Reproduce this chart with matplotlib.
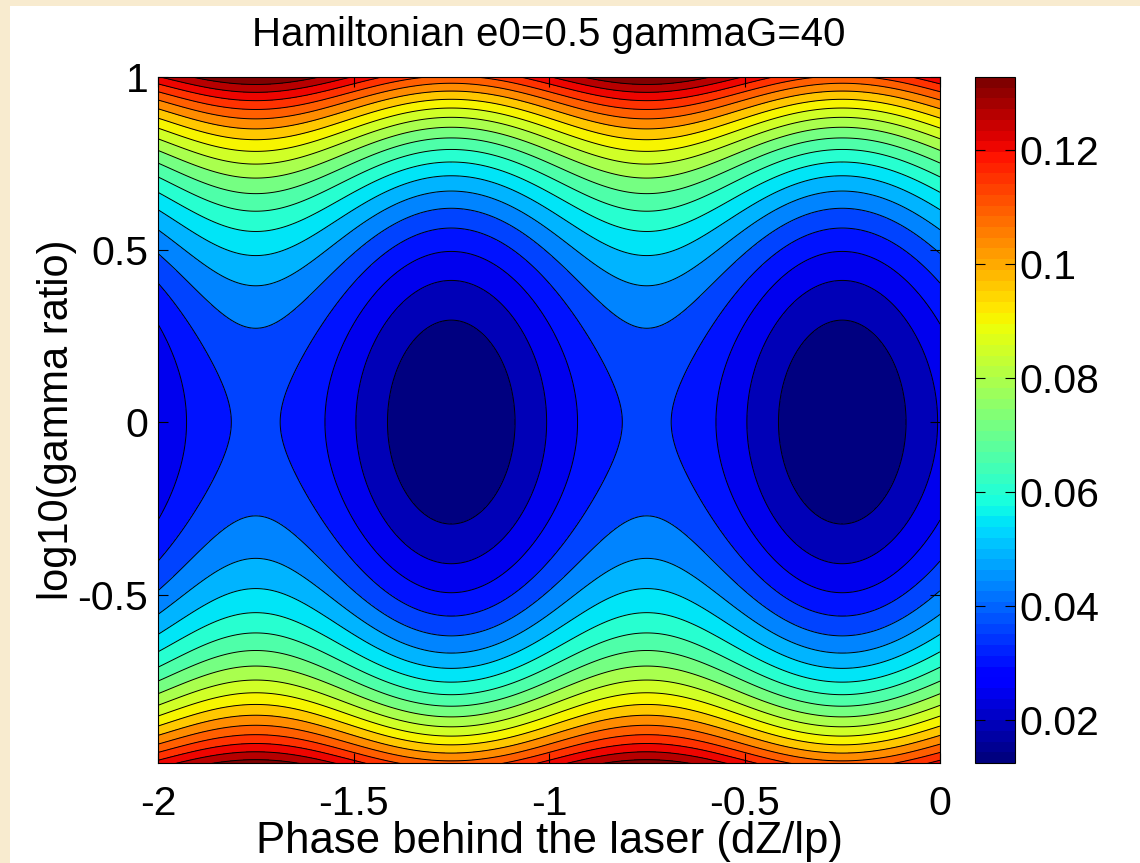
import numpy as np
import matplotlib
matplotlib.use("Agg")
import matplotlib.pyplot as plt
from matplotlib.colors import Normalize
from matplotlib.patches import Rectangle
from matplotlib.cm import ScalarMappable
from matplotlib.ticker import FuncFormatter

# ---- chart values ----
title_text = "Hamiltonian e0=0.5 gammaG=40"
x_label = "Phase behind the laser (dZ/lp)"
y_label = "log10(gamma ratio)"
gamma_G = 40.0
e0 = 0.5
phase_range = [-2.0, 0.0]          # dZ/lp
log_ratio_range = [-1.0, 1.0]      # log10(gamma/gammaG)
y_view = [-0.988, 1.0]
phase_of_minimum = -0.25
n_levels = 20
x_ticks = [-2, -1.5, -1, -0.5, 0]
y_ticks = [-0.5, 0, 0.5, 1]
cbar_ticks = [0.02, 0.04, 0.06, 0.08, 0.10, 0.12]

plt.rcParams["font.family"] = ["Liberation Sans", "DejaVu Sans"]

W, H = 1140, 863
fig = plt.figure(figsize=(W / 100, H / 100), dpi=100)
fig.patch.set_facecolor("white")
beige = "#f8ebcf"
fig.patches.append(Rectangle((0, 0), 10 / W, 1, transform=fig.transFigure,
                             facecolor=beige, edgecolor="none", zorder=-5))
fig.patches.append(Rectangle((0, 1 - 6 / H), 1, 6 / H, transform=fig.transFigure,
                             facecolor=beige, edgecolor="none", zorder=-5))

ax_l, ax_r, ax_t, ax_b = 158, 940, 77, 763
ax = fig.add_axes([ax_l / W, 1 - ax_b / H, (ax_r - ax_l) / W, (ax_b - ax_t) / H])

psi = np.linspace(phase_range[0], phase_range[1], 401)
lr = np.linspace(log_ratio_range[0], log_ratio_range[1], 401)
P, Y = np.meshgrid(psi, lr)
ratio = 10.0 ** Y
# kinetic part (gamma/gammaG + gammaG/gamma)/(2 gammaG) minus wake potential
Hm = (ratio + 1.0 / ratio) / (2.0 * gamma_G) \
    - (e0 / gamma_G) * np.cos(2 * np.pi * (P - phase_of_minimum))

zmin, zmax = Hm.min(), Hm.max()
levels = np.linspace(zmin, zmax, n_levels + 2)
cmap = plt.get_cmap("jet", 64)
norm = Normalize(vmin=levels[0], vmax=levels[-2])
band_colors = [cmap(norm(v)) for v in levels[:-1]]

ax.contourf(P, Y, Hm, levels=levels, colors=band_colors)
ax.contour(P, Y, Hm, levels=levels[1:-1], colors="k", linewidths=0.7)

ax.set_xlim(phase_range)
ax.set_ylim(y_view)
ax.set_xticks(x_ticks)
ax.set_yticks(y_ticks)
fmt = FuncFormatter(lambda v, p: ("%g" % v))
ax.xaxis.set_major_formatter(fmt)
ax.yaxis.set_major_formatter(fmt)
ax.tick_params(direction="in", length=7, width=0.8, top=True, right=True,
               labelsize=29.5, colors="k")
ax.tick_params(axis="x", pad=16)
ax.tick_params(axis="y", pad=7)
for s in ax.spines.values():
    s.set_linewidth(0.8)

ax.set_xlabel(x_label, fontsize=31.5, va="center")
ax.xaxis.set_label_coords(0.5, -(841 - ax_b) / (ax_b - ax_t))
ax.set_ylabel(y_label, fontsize=30, va="center", ha="center")
ax.yaxis.set_label_coords((57 - ax_l) / (ax_r - ax_l), 0.5)
ax.text(0.5, 1 + (ax_t - 35) / (ax_b - ax_t), title_text, transform=ax.transAxes,
        ha="center", va="center", fontsize=29)

cb_l, cb_r = 975, 1015
cax = fig.add_axes([cb_l / W, 1 - ax_b / H, (cb_r - cb_l) / W, (ax_b - ax_t) / H])
sm = ScalarMappable(norm=norm, cmap=cmap)
cb = fig.colorbar(sm, cax=cax, ticks=cbar_ticks)
cb.ax.yaxis.set_major_formatter(fmt)
cb.ax.tick_params(direction="in", length=7, width=0.8, left=True, right=True,
                  labelleft=False, labelright=True, labelsize=29.5, pad=3)
cb.outline.set_linewidth(0.8)

fig.savefig("out.png", dpi=100)
